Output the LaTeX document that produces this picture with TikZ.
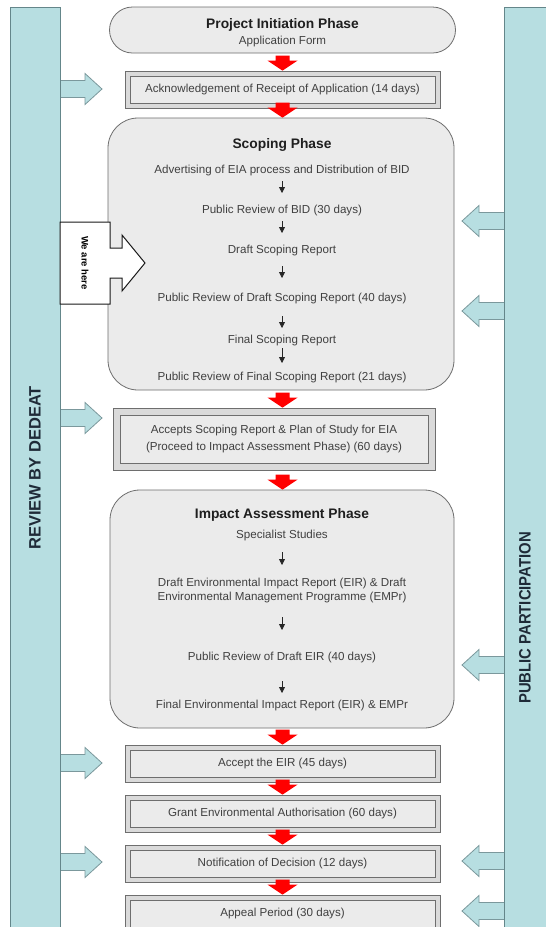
\documentclass[tikz,border=0pt]{standalone}
\usepackage{fontspec}
\setmainfont{Liberation Sans}
\usetikzlibrary{arrows.meta,calc}
\definecolor{barfill}{HTML}{B7DEE1}
\definecolor{barline}{HTML}{64868A}
\definecolor{boxfill}{HTML}{EBEBEB}
\definecolor{boxline}{HTML}{6E6E6E}
\definecolor{framefill}{HTML}{DADADA}
\definecolor{txt}{HTML}{404040}
\definecolor{labeltxt}{HTML}{1F2B38}
\definecolor{redarrow}{HTML}{FF0000}
\begin{document}
\begin{tikzpicture}[x=1pt,y=-1pt,
  bar/.style={draw=barline, fill=barfill, line width=0.9pt},
  tealarrow/.style={draw=barline!85, fill=barfill, line width=0.8pt},
  phase/.style={draw=boxline, fill=boxfill, line width=0.8pt, rounded corners=30pt, inner sep=0pt},
  stadium/.style={draw=boxline, fill=boxfill, line width=0.8pt, rounded corners=23pt, inner sep=0pt},
  framebox/.style={draw=boxline, fill=framefill, line width=0.8pt,
    text=txt, font=\fontsize{11.6}{17}\selectfont, align=center, inner sep=0pt,
    path picture={\draw[draw=boxline, fill=boxfill, line width=0.7pt]
      ($(path picture bounding box.south west)+(#1,-#1)$) rectangle
      ($(path picture bounding box.north east)+(-#1,#1)$);}},
  framebox/.default=5,
  body/.style={text=txt, font=\fontsize{11.6}{14}\selectfont, align=center, inner sep=0pt},
  title/.style={text=black!88, font=\fontsize{13.8}{16}\selectfont\bfseries, inner sep=0pt},
  steparrow/.style={-{Triangle[length=6pt,width=6pt]}, line width=0.8pt, black!85},
  sidelabel/.style={text=labeltxt, font=\fontsize{16.5}{18}\selectfont\bfseries, inner sep=0pt},
  herebox/.style={draw=black!90, fill=white, line width=1pt},
  tealR/.pic={\filldraw[tealarrow] (0,-8.5) -- (25,-8.5) -- (25,-15.5) -- (42,0) -- (25,15.5) -- (25,8.5) -- (0,8.5);},
  redarr/.pic={\fill[redarrow] (-7,-15) -- (7,-15) -- (7,-10) -- (15,-10) -- (0,0) -- (-15,-10) -- (-7,-10) -- cycle;}
]
\useasboundingbox (0,0) rectangle (546,927);
\fill[white] (0,0) rectangle (546,927);

% side arrows
\pic at (60,89) {tealR};
\pic at (60,418) {tealR};
\pic at (60,763) {tealR};
\pic at (60,862) {tealR};
\pic[xscale=-1] at (504,221) {tealR};
\pic[xscale=-1] at (504,311) {tealR};
\pic[xscale=-1] at (504,665) {tealR};
\pic[xscale=-1] at (504,861) {tealR};
\pic[xscale=-1] at (504,911) {tealR};

% side bars
\filldraw[bar] (10,940) rectangle (60,7);
\filldraw[bar] (504,940) rectangle (560,7);
\node[sidelabel, rotate=90] (review) at (35,468) {REVIEW BY DEDEAT};
\node[sidelabel, rotate=90, xscale=0.9, transform shape] (public) at (525,618) {PUBLIC PARTICIPATION};

% phase boxes
\node[stadium, minimum width=346pt, minimum height=46pt] (init) at (282.5,30) {};
\node[title] (initT) at (282.5,25) {Project Initiation Phase};
\node[body] (initB) at (282.5,41) {Application Form};

\node[framebox, minimum width=315pt, minimum height=37pt] (ack) at (282.5,89.5)
  {Acknowledgement of Receipt of Application (14 days)};

\node[phase, minimum width=346pt, minimum height=272pt] (scop) at (281,254) {};
\node[title] (sT) at (282,145) {Scoping Phase};
\node[body] (s1) at (282,170) {Advertising of EIA process and Distribution of BID};
\node[body] (s2) at (282,210) {Public Review of BID (30 days)};
\node[body] (s3) at (282,250) {Draft Scoping Report};
\node[body] (s4) at (282,298) {Public Review of Draft Scoping Report (40 days)};
\node[body] (s5) at (282,340) {Final Scoping Report};
\node[body] (s6) at (282,377) {Public Review of Final Scoping Report (21 days)};
\draw[steparrow] (s1.center) ++(0,11) -- ++(0,12);
\draw[steparrow] (s2.center) ++(0,11) -- ++(0,12);
\draw[steparrow] (s3.center) ++(0,16) -- ++(0,12);
\draw[steparrow] (s4.center) ++(0,18) -- ++(0,12);
\draw[steparrow] (s5.center) ++(0,8) -- ++(0,15);

\node[framebox=7, minimum width=322pt, minimum height=62pt] (acc) at (274,439)
  {Accepts Scoping Report \& Plan of Study for EIA\\(Proceed to Impact Assessment Phase) (60 days)};

\node[phase, minimum width=344pt, minimum height=238pt] (imp) at (282,609) {};
\node[title] (iT) at (282,515) {Impact Assessment Phase};
\node[body] (i1) at (282,535) {Specialist Studies};
\node[body] (i2) at (282,590) {Draft Environmental Impact Report (EIR) \& Draft\\Environmental Management Programme (EMPr)};
\node[body] (i3) at (282,657) {Public Review of Draft EIR (40 days)};
\node[body] (i4) at (282,705) {Final Environmental Impact Report (EIR) \& EMPr};
\draw[steparrow] (i1.center) ++(0,17) -- ++(0,13);
\draw[steparrow] (i2.center) ++(0,27) -- ++(0,13);
\draw[steparrow] (i3.center) ++(0,24) -- ++(0,12);

\node[framebox, minimum width=315pt, minimum height=37pt] (aeir) at (282.5,763.5) {Accept the EIR (45 days)};
\node[framebox, minimum width=315pt, minimum height=37pt] (grant) at (282.5,813.5) {Grant Environmental Authorisation (60 days)};
\node[framebox, minimum width=315pt, minimum height=37pt] (notif) at (282.5,863.5) {Notification of Decision (12 days)};
\node[framebox, minimum width=315pt, minimum height=37pt] (appeal) at (282.5,913.5) {Appeal Period (30 days)};

% we are here
\filldraw[herebox] (60,222) -- (110,222) -- (110,248) -- (122,248) -- (122,235) -- (145,263)
  -- (122,291) -- (122,278) -- (110,278) -- (110,304) -- (60,304) -- cycle;
\node[font=\fontsize{9.5}{10}\selectfont\bfseries, rotate=-90, inner sep=0pt] (here) at (85,263) {We are here};

% red flow arrows
\pic at (ack.north) {redarr};
\pic at (scop.north -| init.center) {redarr};
\pic at (acc.north -| init.center) {redarr};
\pic at (imp.north -| init.center) {redarr};
\pic at (aeir.north) {redarr};
\pic at (grant.north) {redarr};
\pic at (notif.north) {redarr};
\pic at (appeal.north) {redarr};
\end{tikzpicture}
\end{document}
